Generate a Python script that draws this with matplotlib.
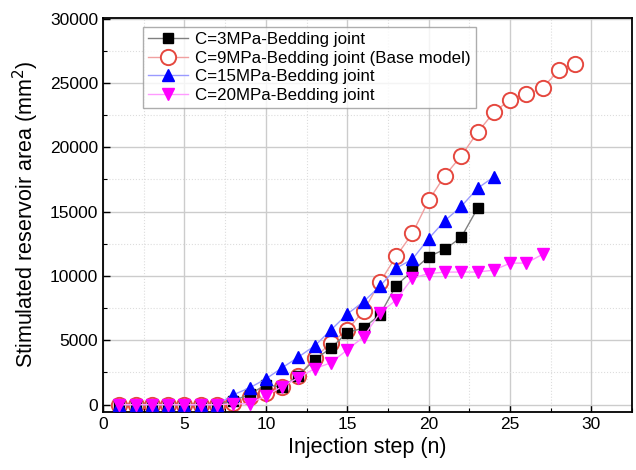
import matplotlib
matplotlib.use("Agg")
import matplotlib.pyplot as plt
from matplotlib.ticker import MultipleLocator

plt.rcParams['font.family'] = ['Liberation Sans', 'DejaVu Sans']

# injection steps and stimulated area (mm^2) for each cohesion case
steps_c3 = list(range(1, 24))
area_c3 = [0, 0, 0, 0, 0, 0, 0, 300, 800, 1550, 1350, 2250, 3500, 4400, 5600,
           5960, 6970, 9250, 10370, 11500, 12070, 13000, 15250]

steps_c9 = list(range(1, 30))
area_c9 = [0, 0, 0, 0, 0, 0, 0, 150, 580, 870, 1350, 2200, 3640, 4800, 5800,
           7280, 9500, 11520, 13300, 15870, 17800, 19330, 21150, 22700, 23700,
           24100, 24600, 26000, 26450]

steps_c15 = list(range(1, 25))
area_c15 = [0, 0, 0, 0, 0, 0, 0, 770, 1300, 2000, 2860, 3700, 4570, 5800, 7040,
            8000, 9200, 10600, 11300, 12900, 14300, 15400, 16800, 17700]

steps_c20 = list(range(1, 28))
area_c20 = [0, 0, 0, 0, 0, 0, 0, 50, 80, 700, 1400, 2100, 2800, 3250, 4260,
            5260, 7120, 8130, 9830, 10180, 10300, 10300, 10300, 10450, 10990,
            11000, 11680]

labels = ['C=3MPa-Bedding joint', 'C=9MPa-Bedding joint (Base model)',
          'C=15MPa-Bedding joint', 'C=20MPa-Bedding joint']

fig = plt.figure(figsize=(6.36, 4.70), dpi=100)
ax = fig.add_axes([0.162, 0.124, 0.832, 0.838])

ax.plot(steps_c3, area_c3, '-', color='#808080', lw=1.0, marker='s', ms=6.5,
        mfc='black', mec='black', label=labels[0], zorder=3)
ax.plot(steps_c9, area_c9, '-', color='#f0a0a0', lw=1.0, marker='o', ms=11,
        mfc='white', mec='#e5483f', mew=1.4, label=labels[1], zorder=2)
ax.plot(steps_c15, area_c15, '-', color='#9a9aff', lw=1.0, marker='^', ms=9,
        mfc='#0000ff', mec='#0000ff', label=labels[2], zorder=4)
ax.plot(steps_c20, area_c20, '-', color='#ff9aff', lw=1.0, marker='v', ms=9,
        mfc='#ff00ff', mec='#ff00ff', label=labels[3], zorder=5)

ax.set_xlim(0, 32.5)
ax.set_ylim(-550, 30050)
ax.xaxis.set_major_locator(MultipleLocator(5))
ax.xaxis.set_minor_locator(MultipleLocator(2.5))
ax.yaxis.set_major_locator(MultipleLocator(5000))
ax.yaxis.set_minor_locator(MultipleLocator(2500))
ax.grid(which='major', color='#cccccc', lw=1.0, ls='-')
ax.grid(which='minor', color='#dddddd', lw=0.8, ls=':')
ax.set_axisbelow(True)

ax.tick_params(which='both', direction='in', labelsize=12.5)
ax.tick_params(which='major', length=5, width=1)
ax.tick_params(which='minor', length=3, width=0.8)
for s in ax.spines.values():
    s.set_linewidth(1.3)

ax.set_xlabel('Injection step (n)', fontsize=15.5, labelpad=4)
ax.set_ylabel('Stimulated reservoir area (mm$^2$)', fontsize=15.5, labelpad=6)

leg = ax.legend(loc='upper left', bbox_to_anchor=(0.075, 0.976), fontsize=12.2,
                frameon=True, fancybox=False, edgecolor='#999999',
                handlelength=2.4, borderpad=0.3, labelspacing=0.2,
                handletextpad=0.4, borderaxespad=0)
leg.get_frame().set_linewidth(1.0)

fig.savefig('out.png', dpi=100)
